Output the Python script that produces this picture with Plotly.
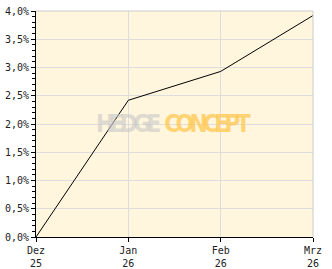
import plotly.graph_objects as go

categories = ["Dez<br>25", "Jan<br>26", "Feb<br>26", "Mrz<br>26"]
values = [0.0, 2.42, 2.93, 3.92]
y_ticks = [0.0, 0.5, 1.0, 1.5, 2.0, 2.5, 3.0, 3.5, 4.0]
y_ticklabels = ["0,0%", "0,5%", "1,0%", "1,5%", "2,0%", "2,5%", "3,0%", "3,5%", "4,0%"]

xs = list(range(len(categories)))

fig = go.Figure()
fig.add_trace(go.Scatter(x=xs, y=values, mode="lines",
                         line=dict(color="black", width=1), hoverinfo="skip"))

font = dict(family="DejaVu Sans Mono", size=10, color="#222")

fig.update_layout(
    width=332, height=269,
    margin=dict(l=36, r=19, t=11, b=32),
    paper_bgcolor="white", plot_bgcolor="#FFF6DD",
    showlegend=False,
    font=font,
    xaxis=dict(range=[0, 3], tickvals=xs, ticktext=categories,
               showgrid=True, gridcolor="#DDDDDD", gridwidth=1,
               showline=True, linecolor="black", linewidth=1,
               ticks="outside", ticklen=4, tickcolor="black",
               zeroline=False, tickfont=font, automargin=False),
    yaxis=dict(range=[0, 4], tickvals=y_ticks, ticktext=y_ticklabels,
               showgrid=True, gridcolor="#DDDDDD", gridwidth=1,
               showline=True, linecolor="black", linewidth=1,
               ticks="outside", ticklen=4, tickcolor="black", ticklabelstandoff=0,
               minor=dict(dtick=0.1, ticks="outside", ticklen=3, tickcolor="black", showgrid=False),
               zeroline=False, tickfont=font, automargin=False),
    shapes=[dict(type="line", xref="paper", yref="paper", x0=0, x1=1, y0=1, y1=1,
                 line=dict(color="#CCCCCC", width=1)),
            dict(type="line", xref="paper", yref="paper", x0=1, x1=1, y0=0, y1=1,
                 line=dict(color="#CCCCCC", width=1))],
    annotations=[dict(xref="paper", yref="paper", x=0.497, y=0.5,
                      text="<b><span style='color:rgba(200,200,200,0.6);letter-spacing:-4.5px'>HEDGE</span> "
                           "<span style='color:rgba(255,200,80,0.75);letter-spacing:-4.5px'>CONCEPT</span></b>",
                      showarrow=False,
                      font=dict(family="DejaVu Sans Condensed", size=24))],
)

fig.write_html("out.html")
